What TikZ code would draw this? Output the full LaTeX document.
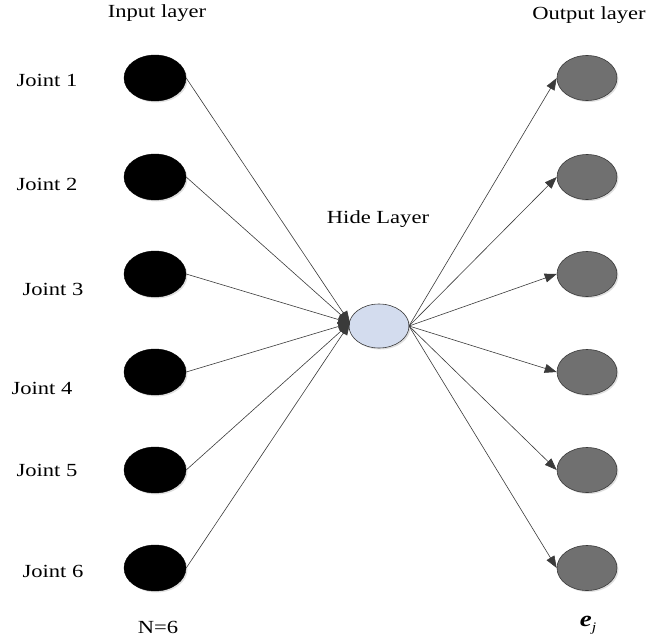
\documentclass[tikz,border=0pt]{standalone}
\usepackage{fontspec}
\setmainfont{Liberation Serif}[FakeStretch=1.22]
\usetikzlibrary{arrows.meta,shadows,shapes.geometric}
\definecolor{hidfill}{HTML}{D3DCEE}
\definecolor{outfill}{HTML}{707070}
\definecolor{linec}{HTML}{3A3A3A}
\tikzset{
  lbl/.style={font=\fontsize{18.5}{22}\selectfont, inner sep=0pt},
  innode/.style={ellipse, draw=black, fill=black, minimum width=62pt, minimum height=46pt, inner sep=0pt,
    drop shadow={shadow xshift=1.5pt, shadow yshift=-1.5pt, opacity=0.25}},
  hidnode/.style={ellipse, draw=linec, line width=0.6pt, fill=hidfill, minimum width=60pt, minimum height=44pt, inner sep=0pt,
    drop shadow={shadow xshift=1.5pt, shadow yshift=-1.5pt, opacity=0.25}},
  outnode/.style={ellipse, draw=linec, line width=0.6pt, fill=outfill, minimum width=60pt, minimum height=45pt, inner sep=0pt,
    drop shadow={shadow xshift=1.5pt, shadow yshift=-1.5pt, opacity=0.25}},
  conn/.style={draw=linec, line width=0.6pt, -{Triangle[length=12pt,width=9pt]}},
}
\begin{document}
\begin{tikzpicture}[x=1pt,y=-1pt]
\useasboundingbox (0,0) rectangle (648,640);
\foreach \i/\y in {1/78,2/177,3/274,4/372,5/470,6/568}{
  \node[innode] (in\i) at (155,\y) {};
  \node[outnode] (out\i) at (587,\y) {};
}
\node[hidnode] (hid) at (379,326) {};
\coordinate (hw) at (350,323);
\coordinate (he) at (409,326);
\foreach \i in {1,...,6}{
  \draw[conn] (in\i.east) -- (hw);
  \draw[conn] (he) -- (out\i.west);
}
\node[lbl] (tin) at (157,13) {Input layer};
\node[lbl] (tout) at (589,15) {Output layer};
\node[lbl] (thid) at (378,219) {Hide Layer};
\node[lbl] (j1) at (47,80) {Joint 1};
\node[lbl] (j2) at (47,184) {Joint 2};
\node[lbl] (j3) at (53,289) {Joint 3};
\node[lbl] (j4) at (42,388) {Joint 4};
\node[lbl] (j5) at (47,470) {Joint 5};
\node[lbl] (j6) at (53,571) {Joint 6};
\node[lbl] (tn) at (158,627) {N=6};
\node[lbl] (te) at (588,625) {{\bfseries\itshape\fontsize{22}{22}\selectfont e}\raisebox{-5pt}{\fontsize{13}{13}\selectfont\itshape j}};
\end{tikzpicture}
\end{document}
